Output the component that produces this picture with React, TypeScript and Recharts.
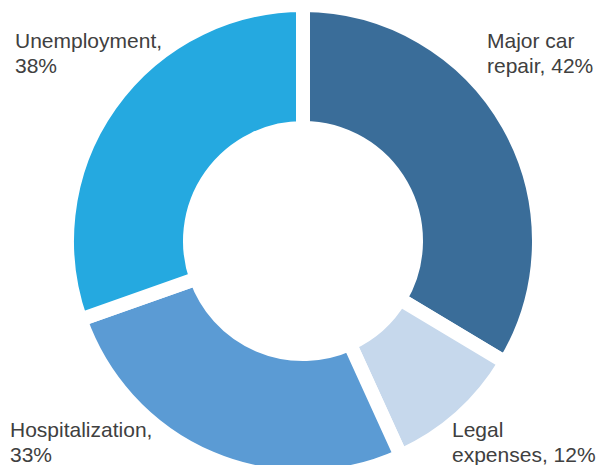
import React from 'react';
import {PieChart, Pie, Cell} from 'recharts';

const categories = ['Major car repair', 'Legal expenses', 'Hospitalization', 'Unemployment'];
const shares = [42, 12, 33, 38];
const sliceColors = ['#3a6d99', '#c6d8ec', '#5b9bd4', '#25a9e0'];

const data = categories.map((name, i) => ({name, value: shares[i]}));

// label anchor relative to the pie centre (first baseline, left aligned)
const labelOffsets = [
	[184, -193],
	[149, 196],
	[-293, 196],
	[-288, -193],
];

// greedy word wrap, ~14 chars per line
const wrap = (text: string, max = 14) => {
	const lines: string[] = [];
	let cur = '';
	text.split(' ').forEach((w) => {
		if (cur && (cur + ' ' + w).length > max) {
			lines.push(cur);
			cur = w;
		} else {
			cur = cur ? cur + ' ' + w : w;
		}
	});
	if (cur) lines.push(cur);
	return lines;
};

const renderLabel = (props: any) => {
	const {cx, cy, index, name, value} = props;
	const [dx, dy] = labelOffsets[index];
	const lines = wrap(`${name}, ${value}%`);
	return (
		<text x={cx + dx} y={cy + dy} fill={'#404040'} fontSize={21} fontFamily={'"Liberation Sans", Arial, sans-serif'} textAnchor={'start'}>
			{lines.map((l, i) => (
				<tspan key={i} x={cx + dx} dy={i === 0 ? 0 : 25}>{l}</tspan>
			))}
		</text>
	);
};

const App = () => {
	return (
		<div style={{position: 'absolute', left: 0, top: 0}}>
			<PieChart width={599} height={465} margin={{top: 0, right: 0, bottom: 0, left: 0}}>
				<Pie
					data={data}
					dataKey={'value'}
					nameKey={'name'}
					cx={303}
					cy={241}
					innerRadius={113}
					outerRadius={236}
					startAngle={90}
					endAngle={-270}
					stroke={'#ffffff'}
					strokeWidth={14}
					label={renderLabel}
					labelLine={false}
					isAnimationActive={false}
				>
					{data.map((d, i) => (
						<Cell key={d.name} fill={sliceColors[i]}/>
					))}
				</Pie>
			</PieChart>
		</div>
	);
};

export default App;
